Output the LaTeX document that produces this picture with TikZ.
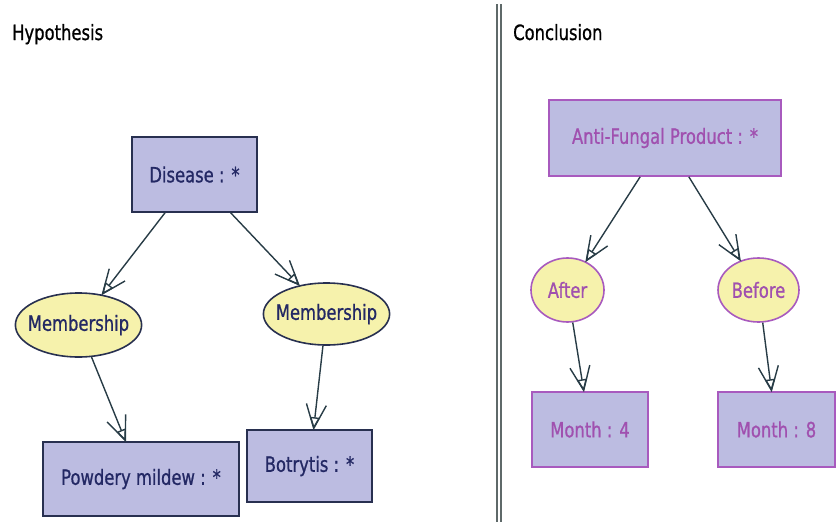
\documentclass[tikz,border=0pt]{standalone}
\usepackage{fontspec}
\setmainfont{DejaVu Sans}[FakeStretch=0.78,FakeBold=0.8]
\usetikzlibrary{arrows.meta,shapes.geometric}

\definecolor{boxfill}{RGB}{188,188,225}
\definecolor{ellfill}{RGB}{246,242,172}
\definecolor{hypline}{RGB}{40,48,80}
\definecolor{hyptext}{RGB}{35,40,100}
\definecolor{conline}{RGB}{168,90,190}
\definecolor{context}{RGB}{160,80,175}
\definecolor{arrline}{RGB}{40,60,70}
\definecolor{divline}{RGB}{95,105,105}

\begin{document}
\begin{tikzpicture}[x=1pt,y=-1pt,
  font=\fontsize{21}{24}\selectfont,
  hbox/.style={rectangle,draw=hypline,line width=1.6pt,fill=boxfill,text=hyptext,inner sep=0pt},
  hell/.style={ellipse,draw=hypline,line width=1.6pt,fill=ellfill,text=hyptext,inner xsep=-6pt,inner ysep=0pt},
  cbox/.style={rectangle,draw=conline,line width=1.6pt,fill=boxfill,text=context,inner sep=0pt},
  cell/.style={ellipse,draw=conline,line width=1.6pt,fill=ellfill,text=context,inner xsep=-6pt,inner ysep=0pt},
  link/.style={draw=arrline,line width=1.4pt,
    -{Straight Barb[length=24pt,width=20pt,sep=-13pt]Triangle[open,length=12pt,width=10pt]}}]
\useasboundingbox (0,0) rectangle (838,522);

% divider
\draw[divline,line width=1.4pt] (497,4) -- (497,522);
\draw[divline,line width=1.4pt] (501,4) -- (501,522);

% titles
\node[anchor=base west,inner sep=0pt] (hyp) at (12,40) {Hypothesis};
\node[anchor=base west,inner sep=0pt] (con) at (513,40) {Conclusion};

% hypothesis
\node[hbox,minimum width=125pt,minimum height=75pt] (dis) at (194.5,174.5) {Disease : *};
\node[hell,minimum width=126pt,minimum height=64pt] (mem1) at (78.5,325) {Membership};
\node[hell,minimum width=126pt,minimum height=62pt] (mem2) at (326.5,314) {Membership};
\node[hbox,minimum width=196pt,minimum height=74pt] (pm) at (141,479) {Powdery mildew : *};
\node[hbox,minimum width=125pt,minimum height=72pt] (bot) at (309.5,466) {Botrytis : *};

% conclusion
\node[cbox,minimum width=232pt,minimum height=76pt] (afp) at (665,138) {Anti-Fungal Product : *};
\node[cell,minimum width=73pt,minimum height=64pt] (aft) at (567.5,290) {After};
\node[cell,minimum width=81pt,minimum height=64pt] (bef) at (758.5,290) {Before};
\node[cbox,minimum width=116pt,minimum height=75pt] (m4) at (590,429.5) {Month : 4};
\node[cbox,minimum width=117pt,minimum height=75pt] (m8) at (776.5,429.5) {Month : 8};

\draw[link] (dis) -- (mem1);
\draw[link] (dis) -- (mem2);
\draw[link] (mem1) -- (pm);
\draw[link] (mem2) -- (bot);
\draw[link] (afp) -- (aft);
\draw[link] (afp) -- (bef);
\draw[link] (aft) -- (m4);
\draw[link] (bef) -- (m8);
\end{tikzpicture}
\end{document}
